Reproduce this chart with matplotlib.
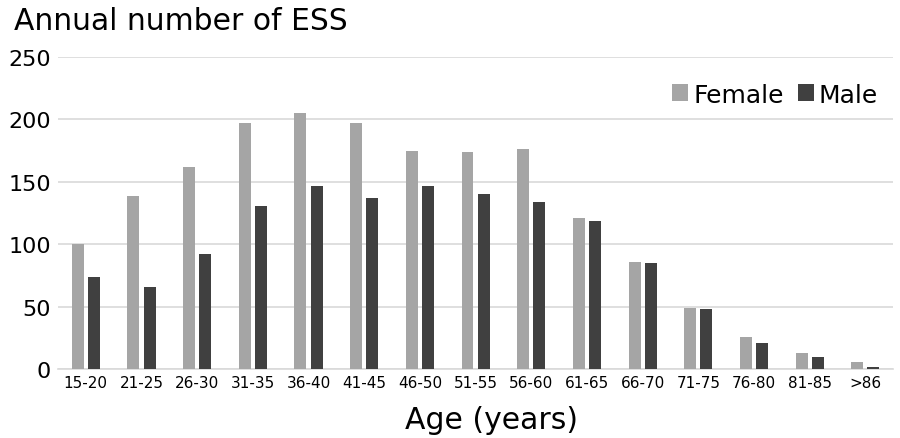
import matplotlib
matplotlib.use("Agg")
import matplotlib.pyplot as plt
import numpy as np

# datos
grupos = ["15-20", "21-25", "26-30", "31-35", "36-40", "41-45", "46-50",
          "51-55", "56-60", "61-65", "66-70", "71-75", "76-80", "81-85", ">86"]
mujeres = [100, 139, 162, 197, 205, 197, 175, 174, 176, 121, 86, 49, 26, 13, 6]
hombres = [74, 66, 92, 131, 147, 137, 147, 140, 134, 119, 85, 48, 21, 10, 2]

plt.rcParams["font.family"] = "DejaVu Sans"

fig = plt.figure(figsize=(9, 4.39), dpi=100)
ax = fig.add_axes([0.0644, 0.157, 0.928, 0.711])

x = np.arange(len(grupos))
ancho = 0.215
ax.bar(x - 0.145, mujeres, ancho, color="#a5a5a5", label="Female", zorder=3)
ax.bar(x + 0.145, hombres, ancho, color="#404040", label="Male", zorder=3)

ax.set_xlim(-0.5, len(grupos) - 0.5)
ax.set_ylim(0, 250)
ax.set_yticks([0, 50, 100, 150, 200, 250])
ax.set_xticks(x)
ax.set_xticklabels(grupos, fontsize=11)
ax.tick_params(axis="y", labelsize=16, length=0, pad=5)
ax.tick_params(axis="x", length=0, pad=4)
ax.grid(axis="y", color="#d9d9d9", linewidth=1.2, zorder=0)

for lado in ["top", "right", "left"]:
    ax.spines[lado].set_visible(False)
ax.spines["bottom"].set_color("#d9d9d9")
ax.spines["bottom"].set_linewidth(1.2)

# título y etiqueta del eje como texto de la figura
fig.text(0.546, 0.043, "Age (years)", fontsize=21.5, ha="center", va="center")
fig.text(0.016, 0.95, "Annual number of ESS", fontsize=21.4, ha="left", va="center")

ax.legend(loc="upper right", bbox_to_anchor=(1.009, 0.99), ncol=2, frameon=False,
          fontsize=18, handlelength=0.65, handleheight=0.65, handletextpad=0.2,
          columnspacing=0.55)

fig.savefig("out.png", dpi=100)
